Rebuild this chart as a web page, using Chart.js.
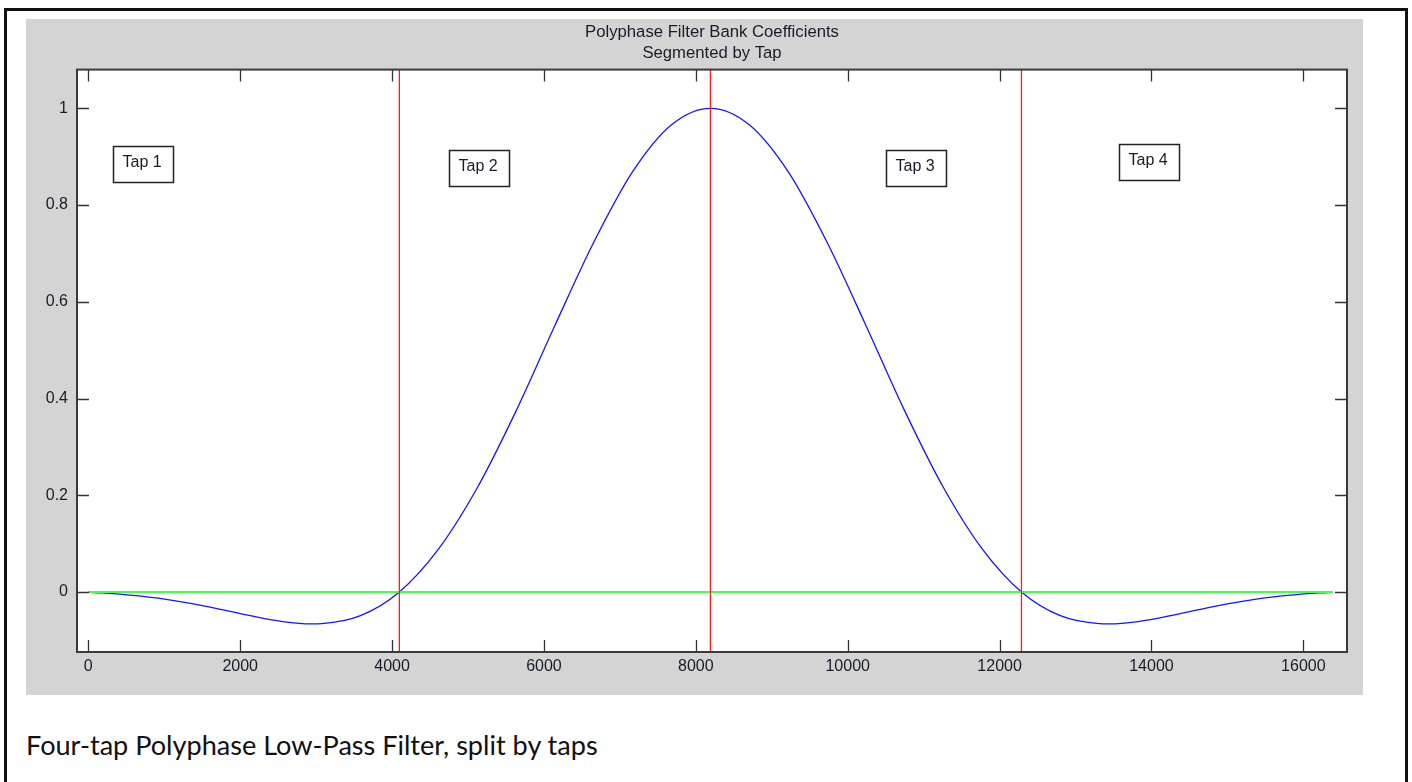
<!DOCTYPE html>
<html><head><meta charset="utf-8">
<script src="https://cdn.jsdelivr.net/npm/chart.js@4.4.1/dist/chart.umd.min.js"></script>
<style>
html,body{margin:0;padding:0;background:#fff;width:1412px;height:782px;overflow:hidden;}
#frame{position:absolute;left:4px;top:8px;width:1398px;height:820px;border:3px solid #111;}
#fig{position:absolute;left:26px;top:19px;width:1337px;height:676px;background:#d4d4d4;}
#caption{position:absolute;left:26px;top:731px;line-height:28px;font-family:Lato,"Open Sans",sans-serif;font-size:21px;color:#111;white-space:nowrap;}
</style></head>
<body>
<div id="frame"></div>
<div id="fig"><canvas id="c" width="1337" height="676"></canvas></div>
<div id="caption"></div>
<script>
// ---- data ----
const sampleIndex = [0,512,1024,1536,2048,2560,2944,3072,3584,4096,4608,5120,5632,6144,6656,7168,7680,8192,
  8704,9216,9728,10240,10752,11264,11776,12288,12800,13312,13440,13824,14336,14848,15360,15872,16384];
const coefficients = [0,-0.006,-0.015,-0.029,-0.046,-0.061,-0.066,-0.0655,-0.049,0,0.088,0.215,0.374,0.551,0.723,0.869,0.966,1.000,
  0.966,0.869,0.723,0.551,0.374,0.215,0.088,0,-0.049,-0.0655,-0.066,-0.061,-0.046,-0.029,-0.015,-0.006,0];
const zeroLineX = [0, 16384];
const zeroLineY = [0, 0];
const tapBoundaries = [4096, 8192, 12288];
const xTicks = [0,2000,4000,6000,8000,10000,12000,14000,16000];
const xTickLabels = ['0','2000','4000','6000','8000','10000','12000','14000','16000'];
const yTicks = [0,0.2,0.4,0.6,0.8,1];
const yTickLabels = ['0','0.2','0.4','0.6','0.8','1'];
const xRange = [-149, 16575];
const yRange = [-0.124, 1.08];
const tapLabels = ['Tap 1','Tap 2','Tap 3','Tap 4'];
const tapLabelX = [320, 4753, 10502, 13574];
const tapLabelY = [0.9215, 0.913, 0.913, 0.9256];
const titleLines = ['Polyphase Filter Bank Coefficients','Segmented by Tap'];
const captionText = 'Four-tap Polyphase Low-Pass Filter, split by taps';

// ---- caption ----
const cap = document.getElementById('caption');
cap.textContent = captionText;
const cw = cap.getBoundingClientRect().width;
cap.style.fontSize = (21 * 572 / cw).toFixed(2) + 'px';

const FONT = '"Liberation Sans", Arial, sans-serif';

const whiteArea = {
  id: 'whiteArea',
  beforeDatasetsDraw(chart) {
    const ctx = chart.ctx, a = chart.chartArea;
    ctx.save();
    ctx.fillStyle = '#ffffff';
    ctx.fillRect(a.left, a.top, a.right - a.left, a.bottom - a.top);
    ctx.restore();
  }
};

const matlabAxes = {
  id: 'matlabAxes',
  afterDatasetsDraw(chart) {
    const ctx = chart.ctx, a = chart.chartArea, x = chart.scales.x, y = chart.scales.y;
    ctx.save();
    ctx.strokeStyle = '#333';
    ctx.lineWidth = 1.3;
    ctx.beginPath();
    xTicks.forEach(v => {
      const px = Math.round(x.getPixelForValue(v)) + 0.5;
      ctx.moveTo(px, a.bottom); ctx.lineTo(px, a.bottom - 12);
      ctx.moveTo(px, a.top); ctx.lineTo(px, a.top + 12);
    });
    yTicks.forEach(v => {
      const py = Math.round(y.getPixelForValue(v)) + 0.5;
      ctx.moveTo(a.left, py); ctx.lineTo(a.left + 12, py);
      ctx.moveTo(a.right, py); ctx.lineTo(a.right - 12, py);
    });
    ctx.stroke();
    ctx.lineWidth = 2;
    ctx.strokeStyle = '#3a3a3a';
    ctx.strokeRect(a.left, a.top, a.right - a.left, a.bottom - a.top);
    // tap text boxes
    ctx.font = '16px ' + FONT;
    ctx.textBaseline = 'middle';
    ctx.textAlign = 'left';
    tapLabels.forEach((t, i) => {
      const bx = Math.round(x.getPixelForValue(tapLabelX[i])) + 0.5;
      const by = Math.round(y.getPixelForValue(tapLabelY[i])) + 0.5;
      const w = Math.round(ctx.measureText(t).width) + 21;
      const h = 36;
      ctx.fillStyle = '#fff';
      ctx.fillRect(bx, by, w, h);
      ctx.strokeStyle = '#222';
      ctx.lineWidth = 1.5;
      ctx.strokeRect(bx, by, w, h);
      ctx.fillStyle = '#1a1a2a';
      ctx.fillText(t, bx + 9, by + 16);
    });
    ctx.restore();
  }
};

const blueData = sampleIndex.map((n, i) => ({x: n, y: coefficients[i]}));
const greenData = zeroLineX.map((n, i) => ({x: n, y: zeroLineY[i]}));
const redSets = tapBoundaries.map(b => ({
  data: [{x: b, y: yRange[0]}, {x: b, y: yRange[1]}],
  borderColor: '#ff1a1a', borderWidth: 1.3, pointRadius: 0, order: 0, fill: false
}));

new Chart(document.getElementById('c'), {
  type: 'line',
  data: {
    datasets: [
      ...redSets,
      {data: greenData, borderColor: '#44ff44', borderWidth: 2, pointRadius: 0, order: 1, fill: false},
      {data: blueData, borderColor: '#1414ff', borderWidth: 1.3, pointRadius: 0, order: 2, fill: false,
       cubicInterpolationMode: 'monotone'}
    ]
  },
  options: {
    responsive: false, animation: false, devicePixelRatio: 1,
    layout: {padding: {left: 0, right: 16, top: 0, bottom: 0}},
    plugins: {
      legend: {display: false},
      tooltip: {enabled: false},
      title: {
        display: true, text: titleLines, fullSize: false, color: '#1a1a2a',
        font: {family: FONT, size: 16.7, weight: 'normal', lineHeight: 1.26},
        padding: {top: 3, bottom: 5.5}
      }
    },
    scales: {
      x: {
        type: 'linear', min: xRange[0], max: xRange[1],
        grid: {display: false, drawTicks: false}, border: {display: false},
        afterBuildTicks: s => { s.ticks = xTicks.map(v => ({value: v})); },
        afterFit: s => { s.height = 43; },
        ticks: {autoSkip: false, maxRotation: 0, padding: 5, color: '#1a1a2a',
          font: {family: FONT, size: 16},
          callback: (v, i) => xTickLabels[i]}
      },
      y: {
        type: 'linear', min: yRange[0], max: yRange[1],
        grid: {display: false, drawTicks: false}, border: {display: false},
        afterBuildTicks: s => { s.ticks = yTicks.map(v => ({value: v})); },
        afterFit: s => { s.width = 51; },
        ticks: {padding: 9, color: '#1a1a2a', font: {family: FONT, size: 16},
          callback: (v, i) => yTickLabels[i]}
      }
    }
  },
  plugins: [whiteArea, matlabAxes]
});
</script>
</body></html>
